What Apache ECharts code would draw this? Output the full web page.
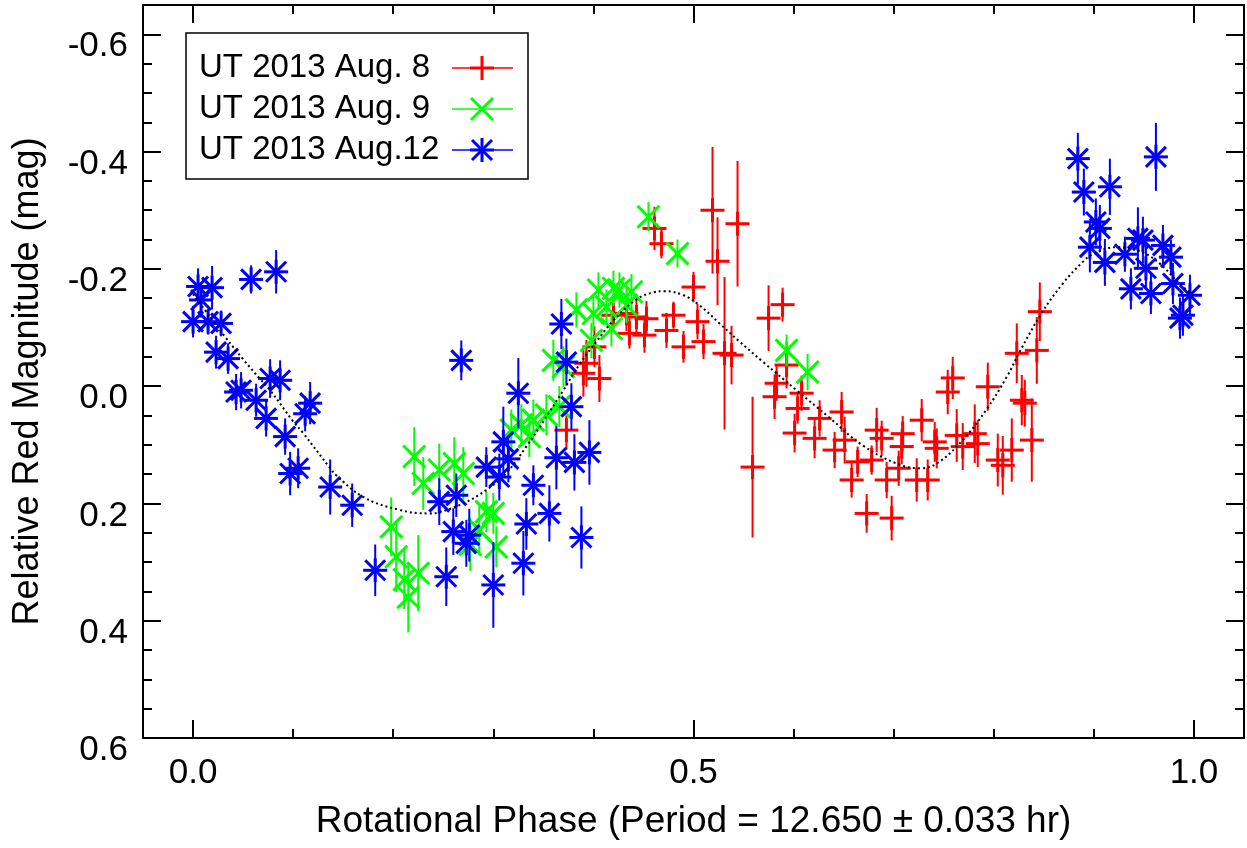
<!DOCTYPE html>
<html><head><meta charset="utf-8">
<script src="https://cdn.jsdelivr.net/npm/echarts@6/dist/echarts.min.js"></script>
<style>html,body{margin:0;padding:0;background:#fff}#c{width:1247px;height:848px}</style>
</head><body><div id="c"></div>
<script>
// ---- data: [phase, relative magnitude, error] ----
const aug8 = [
[0.373,0.075,0.033],[0.390,-0.022,0.040],[0.393,-0.039,0.040],[0.401,-0.067,0.035],[0.406,-0.013,0.040],
[0.420,-0.121,0.025],[0.433,-0.124,0.030],[0.436,-0.090,0.026],[0.443,-0.118,0.030],[0.451,-0.087,0.030],
[0.453,-0.115,0.030],[0.461,-0.269,0.037],[0.468,-0.243,0.025],[0.473,-0.095,0.030],[0.480,-0.121,0.023],
[0.490,-0.067,0.027],[0.500,-0.169,0.026],[0.504,-0.110,0.030],[0.510,-0.076,0.030],[0.519,-0.300,0.108],
[0.524,-0.213,0.075],[0.531,-0.056,0.130],[0.538,-0.053,0.050],[0.544,-0.277,0.107],[0.559,0.138,0.120],
[0.575,-0.116,0.056],[0.589,-0.139,0.029],[0.593,-0.036,0.040],[0.583,-0.005,0.030],[0.581,0.018,0.038],
[0.608,0.012,0.030],[0.604,0.038,0.026],[0.601,0.080,0.033],[0.621,0.089,0.034],[0.626,0.055,0.031],
[0.648,0.044,0.034],[0.641,0.109,0.031],[0.651,0.092,0.040],[0.664,0.129,0.026],[0.658,0.160,0.030],
[0.673,0.217,0.033],[0.678,0.126,0.025],[0.683,0.075,0.038],[0.688,0.089,0.030],[0.693,0.160,0.031],
[0.698,0.225,0.038],[0.709,0.081,0.030],[0.708,0.103,0.030],[0.705,0.140,0.030],[0.728,0.058,0.036],
[0.723,0.160,0.037],[0.734,0.160,0.035],[0.741,0.095,0.034],[0.743,0.106,0.034],[0.754,0.010,0.038],
[0.759,-0.014,0.036],[0.763,0.084,0.045],[0.769,0.103,0.040],[0.781,0.081,0.050],[0.784,0.098,0.040],
[0.794,0.001,0.041],[0.804,0.126,0.045],[0.809,0.135,0.050],[0.818,0.109,0.054],[0.823,-0.056,0.051],
[0.828,0.024,0.043],[0.831,0.029,0.040],[0.838,0.092,0.071],[0.843,-0.061,0.057],[0.846,-0.127,0.050]
];
const aug9 = [
[0.198,0.240,0.050],[0.203,0.291,0.060],[0.211,0.330,0.050],[0.215,0.360,0.060],[0.221,0.120,0.050],
[0.225,0.319,0.065],[0.230,0.166,0.045],[0.246,0.143,0.045],[0.261,0.132,0.045],[0.270,0.149,0.045],
[0.277,0.270,0.045],[0.286,0.245,0.040],[0.293,0.214,0.035],[0.300,0.217,0.035],[0.303,0.274,0.035],
[0.318,0.075,0.035],[0.328,0.066,0.035],[0.336,0.086,0.035],[0.340,0.058,0.035],[0.353,0.049,0.035],
[0.360,-0.044,0.035],[0.366,0.035,0.035],[0.370,-0.033,0.035],[0.383,-0.130,0.030],[0.398,-0.078,0.030],
[0.400,-0.124,0.030],[0.405,-0.164,0.030],[0.413,-0.135,0.030],[0.418,-0.098,0.030],[0.420,-0.167,0.030],
[0.426,-0.164,0.030],[0.433,-0.138,0.030],[0.438,-0.161,0.030],[0.455,-0.289,0.025],[0.484,-0.226,0.024],
[0.593,-0.061,0.027],[0.614,-0.024,0.031]
];
const aug12 = [
[0.005,-0.170,0.031],[0.019,-0.168,0.037],[0.058,-0.182,0.024],[0.083,-0.195,0.037],[0.008,-0.147,0.030],
[0.000,-0.110,0.027],[0.015,-0.110,0.022],[0.028,-0.107,0.022],[0.023,-0.058,0.028],[0.035,-0.047,0.026],
[0.043,0.010,0.031],[0.048,0.007,0.031],[0.063,0.024,0.028],[0.077,-0.013,0.033],[0.087,-0.010,0.034],
[0.073,0.055,0.031],[0.117,0.029,0.036],[0.112,0.047,0.030],[0.092,0.086,0.031],[0.097,0.149,0.037],
[0.105,0.140,0.034],[0.137,0.172,0.047],[0.159,0.203,0.037],[0.182,0.314,0.044],
[0.268,-0.044,0.034],[0.325,0.012,0.060],[0.368,-0.106,0.043],[0.373,-0.041,0.040],[0.378,0.035,0.040],
[0.310,0.095,0.060],[0.293,0.138,0.034],[0.306,0.155,0.040],[0.315,0.124,0.040],[0.340,0.169,0.034],
[0.363,0.122,0.054],[0.381,0.130,0.048],[0.396,0.113,0.055],[0.356,0.217,0.048],[0.333,0.235,0.044],
[0.388,0.258,0.053],[0.246,0.197,0.040],[0.263,0.186,0.037],[0.260,0.248,0.040],[0.276,0.254,0.045],
[0.273,0.268,0.040],[0.330,0.302,0.055],[0.300,0.339,0.073],[0.253,0.325,0.050],
[0.884,-0.388,0.044],[0.962,-0.391,0.058],[0.890,-0.331,0.040],[0.916,-0.340,0.048],[0.902,-0.280,0.040],
[0.906,-0.269,0.040],[0.896,-0.237,0.043],[0.911,-0.211,0.040],[0.931,-0.225,0.030],[0.944,-0.252,0.053],
[0.949,-0.249,0.040],[0.952,-0.201,0.035],[0.969,-0.240,0.035],[0.977,-0.220,0.030],[0.937,-0.166,0.035],
[0.957,-0.158,0.035],[0.979,-0.175,0.035],[0.996,-0.155,0.035],[0.989,-0.121,0.035],[0.986,-0.116,0.035]
];
const fitCurve = [
[0.000,-0.157],[0.017,-0.118],[0.033,-0.082],[0.050,-0.046],[0.067,-0.012],[0.077,0.007],[0.100,0.060],
[0.110,0.080],[0.137,0.140],[0.143,0.152],[0.170,0.189],[0.206,0.211],[0.236,0.217],[0.246,0.215],
[0.270,0.200],[0.293,0.177],[0.313,0.148],[0.333,0.103],[0.350,0.060],[0.370,0.007],[0.386,-0.037],
[0.403,-0.076],[0.420,-0.112],[0.443,-0.148],[0.460,-0.160],[0.471,-0.162],[0.490,-0.155],[0.506,-0.138],
[0.526,-0.107],[0.546,-0.076],[0.569,-0.042],[0.603,0.007],[0.636,0.054],[0.669,0.101],[0.703,0.132],
[0.726,0.140],[0.743,0.132],[0.769,0.092],[0.793,0.039],[0.813,-0.016],[0.826,-0.059],[0.848,-0.125],
[0.869,-0.175],[0.889,-0.212],[0.899,-0.225],[0.922,-0.237],[0.946,-0.230],[0.966,-0.209],[0.982,-0.181],
[1.000,-0.153]
];
const seriesNames = ['UT 2013 Aug. 8', 'UT 2013 Aug. 9', 'UT 2013 Aug.12'];
const xMajorTicks = [0, 0.5, 1.0];
const xMinorTicks = [0.1, 0.2, 0.3, 0.4, 0.6, 0.7, 0.8, 0.9];
const yMajorTicks = [-0.6, -0.4, -0.2, 0, 0.2, 0.4, 0.6];
const yMinorTicks = [-0.55,-0.5,-0.45,-0.35,-0.3,-0.25,-0.15,-0.1,-0.05,0.05,0.1,0.15,0.25,0.3,0.35,0.45,0.5,0.55];
const xTitle = 'Rotational Phase (Period = 12.650 \u00b1 0.033 hr)';
const yTitle = 'Relative Red Magnitude (mag)';

// ---- styling ----
const FONT = "'Liberation Sans', Arial, Helvetica, sans-serif";
const COLORS = ['#ff0000', '#00ff00', '#0000ff'];
const SHAPES = {
  plus: [[-12,0,12,0],[0,-12,0,12]],
  cross: [[-11,-11,11,11],[-11,11,11,-11]],
  star: [[-12,0,12,0],[0,-12,0,12],[-10,-10,10,10],[-10,10,10,-10]]
};
const SHAPE_OF = ['plus', 'cross', 'star'];

function symbolLines(shape, cx, cy, color, w) {
  return SHAPES[shape].map(s => ({
    type: 'line',
    shape: {x1: cx + s[0], y1: cy + s[1], x2: cx + s[2], y2: cy + s[3]},
    style: {stroke: color, lineWidth: w}
  }));
}
function makeRender(shape, color) {
  return function (params, api) {
    const x = api.value(0), y = api.value(1), e = api.value(2);
    const c = api.coord([x, y]);
    const t = api.coord([x, y - e]);
    const b = api.coord([x, y + e]);
    const children = [{type: 'line', shape: {x1: c[0], y1: t[1], x2: c[0], y2: b[1]}, style: {stroke: color, lineWidth: 2}}]
      .concat(symbolLines(shape, c[0], c[1], color, 3));
    return {type: 'group', children: children};
  };
}

const XMIN = -0.05, XMAX = 1.05, YMIN = -0.65, YMAX = 0.6;
const lineStyle = {color: '#000', width: 2};
function xAxisDef(pos, ticks, len, showLine, extra) {
  return Object.assign({
    type: 'value', position: pos, min: XMIN, max: XMAX, gridIndex: 0,
    axisLine: {show: showLine, onZero: false, lineStyle: lineStyle},
    axisTick: {show: true, inside: true, length: len, lineStyle: lineStyle, customValues: ticks},
    axisLabel: {show: false}, splitLine: {show: false}
  }, extra || {});
}
function yAxisDef(pos, ticks, len, showLine, extra) {
  return Object.assign({
    type: 'value', position: pos, min: YMIN, max: YMAX, inverse: true, gridIndex: 0,
    axisLine: {show: showLine, onZero: false, lineStyle: lineStyle},
    axisTick: {show: true, inside: true, length: len, lineStyle: lineStyle, customValues: ticks},
    axisLabel: {show: false}, splitLine: {show: false}
  }, extra || {});
}

// legend (drawn as graphic)
const legendRows = [68, 109, 150];
const legendGraphic = [{
  type: 'rect', shape: {x: 186, y: 33, width: 342, height: 146},
  style: {fill: '#fff', stroke: '#000', lineWidth: 1.5}, z: 100
}];
seriesNames.forEach((n, i) => {
  const y = legendRows[i];
  legendGraphic.push({type: 'text', x: 199, y: y, z: 101,
    style: {text: n, font: '33px ' + FONT, fill: '#000', verticalAlign: 'middle', align: 'left'}});
  legendGraphic.push({type: 'line', z: 101, shape: {x1: 452, y1: y, x2: 513, y2: y}, style: {stroke: COLORS[i], lineWidth: 1.5}});
  symbolLines(SHAPE_OF[i], 482, y, COLORS[i], 3).forEach(l => { l.z = 101; legendGraphic.push(l); });
});

const chart = echarts.init(document.getElementById('c'));
chart.setOption({
  animation: false,
  backgroundColor: '#fff',
  grid: {left: 143, top: 5, right: 3, bottom: 110, containLabel: false, outerBoundsMode: 'none'},
  xAxis: [
    xAxisDef('bottom', xMajorTicks, 18, true, {
      axisLabel: {show: true, customValues: xMajorTicks, formatter: v => Number(v).toFixed(1),
        fontSize: 35, color: '#000', fontFamily: FONT, margin: 18},
      name: xTitle, nameLocation: 'middle', nameGap: 65,
      nameTextStyle: {fontSize: 37, color: '#000', fontFamily: FONT}
    }),
    xAxisDef('bottom', xMinorTicks, 9, false),
    xAxisDef('top', xMajorTicks, 18, true),
    xAxisDef('top', xMinorTicks, 9, false)
  ],
  yAxis: [
    yAxisDef('left', yMajorTicks, 18, true, {
      axisLabel: {show: true, customValues: yMajorTicks, formatter: v => Number(v).toFixed(1),
        fontSize: 35, color: '#000', fontFamily: FONT, margin: 15, verticalAlign: 'top', lineHeight: 25},
      name: yTitle, nameLocation: 'middle', nameGap: 97,
      nameTextStyle: {fontSize: 36, color: '#000', fontFamily: FONT, padding: [0, 20, 0, 0]}
    }),
    yAxisDef('left', yMinorTicks, 9, false),
    yAxisDef('right', yMajorTicks, 18, true),
    yAxisDef('right', yMinorTicks, 9, false)
  ],
  series: [
    {type: 'custom', name: seriesNames[0], xAxisIndex: 0, yAxisIndex: 0, data: aug8, renderItem: makeRender('plus', COLORS[0]), encode: {x: 0, y: 1}, z: 2},
    {type: 'custom', name: seriesNames[1], xAxisIndex: 0, yAxisIndex: 0, data: aug9, renderItem: makeRender('cross', COLORS[1]), encode: {x: 0, y: 1}, z: 3},
    {type: 'custom', name: seriesNames[2], xAxisIndex: 0, yAxisIndex: 0, data: aug12, renderItem: makeRender('star', COLORS[2]), encode: {x: 0, y: 1}, z: 4},
    {type: 'line', name: 'fit', xAxisIndex: 0, yAxisIndex: 0, data: fitCurve, showSymbol: false, symbol: 'none', smooth: 0.4,
      lineStyle: {color: '#000', width: 2, type: [2, 3]}, z: 5}
  ],
  graphic: legendGraphic
});
</script>
</body></html>
